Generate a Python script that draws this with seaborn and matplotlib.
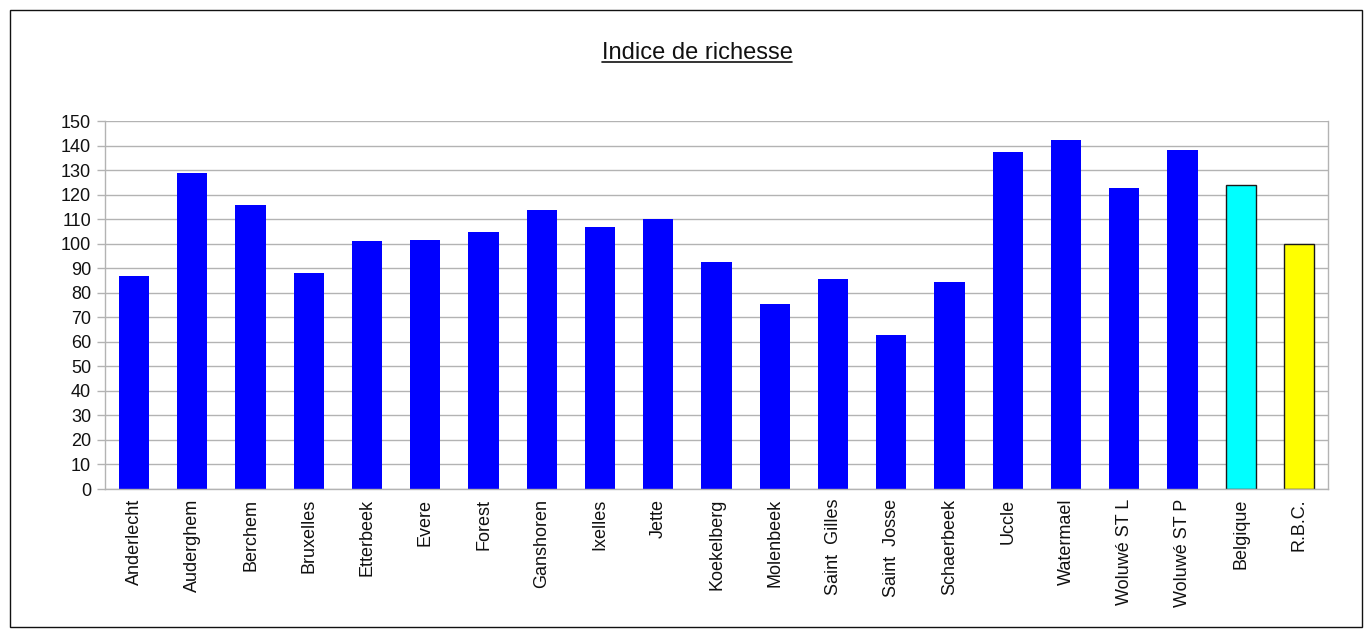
import matplotlib
matplotlib.use("Agg")
import matplotlib.pyplot as plt
import seaborn as sns
import pandas as pd
from matplotlib.patches import Rectangle
from matplotlib.lines import Line2D

communes = ["Anderlecht", "Auderghem", "Berchem", "Bruxelles", "Etterbeek", "Evere",
            "Forest", "Ganshoren", "Ixelles", "Jette", "Koekelberg", "Molenbeek",
            "Saint  Gilles", "Saint  Josse", "Schaerbeek", "Uccle", "Watermael",
            "Woluwé ST L", "Woluwé ST P", "Belgique", "R.B.C."]
indice = [87.0, 128.7, 115.6, 88.2, 100.9, 101.7, 104.6, 113.6, 107.0, 109.9, 92.7,
          75.5, 85.7, 62.6, 84.5, 137.3, 142.2, 122.6, 138.1, 123.9, 100.0]
colors = ["#0000ff"] * 19 + ["#00ffff", "#ffff00"]
y_ticks = list(range(0, 151, 10))
title = "Indice de richesse"

df = pd.DataFrame({"commune": communes, "indice": indice})

sns.set_theme(style="white")
plt.rcParams["font.family"] = ["Liberation Sans", "DejaVu Sans"]

fig = plt.figure(figsize=(13.72, 6.37), dpi=100)
ax = fig.add_axes([0.0765, 0.2323, 0.8915, 0.5777])

sns.barplot(data=df, x="commune", y="indice", hue="commune", palette=colors,
            legend=False, width=0.52, saturation=1, ax=ax, linewidth=0)

# outline the two reference bars
for patch, name in zip(ax.patches, communes):
    if name in ("Belgique", "R.B.C."):
        patch.set_edgecolor("#1a1a1a")
        patch.set_linewidth(1.0)

ax.set_ylim(0, 150)
ax.set_xlim(-0.5, len(communes) - 0.5)
ax.set_yticks(y_ticks)
ax.set_yticklabels([str(v) for v in y_ticks], fontsize=13, color="#111111")
ax.set_xticks(range(len(communes)))
ax.set_xticklabels(communes, rotation=90, fontsize=13, color="#111111")
ax.set_xlabel("")
ax.set_ylabel("")

ax.set_xticks([i - 0.5 for i in range(len(communes) + 1)], minor=True)
ax.tick_params(axis="x", which="major", length=0, pad=7)
ax.tick_params(axis="x", which="minor", length=6, width=1, color="#b3b3b3", direction="out")
ax.tick_params(axis="y", which="major", length=6, width=1, color="#b3b3b3", direction="out", pad=4, left=True)

ax.yaxis.grid(True, color="#b3b3b3", linewidth=1)
ax.set_axisbelow(True)
for side in ("left", "right", "bottom"):
    ax.spines[side].set_visible(True)
    ax.spines[side].set_color("#b3b3b3")
    ax.spines[side].set_linewidth(1)
ax.spines["top"].set_visible(False)

# outer frame
fig.patches.append(Rectangle((0.0073, 0.0157), 0.9854, 0.9686, transform=fig.transFigure,
                             fill=False, edgecolor="#111111", linewidth=1))

# underlined title
ty = 0.908
t = fig.text(0.508, ty, title, ha="center", va="baseline", fontsize=17, color="#111111")
fig.canvas.draw()
bb = t.get_window_extent().transformed(fig.transFigure.inverted())
fig.add_artist(Line2D([bb.x0, bb.x1], [ty - 0.006, ty - 0.006], transform=fig.transFigure,
                      color="#111111", linewidth=1.2))

fig.savefig("out.png", dpi=100)
